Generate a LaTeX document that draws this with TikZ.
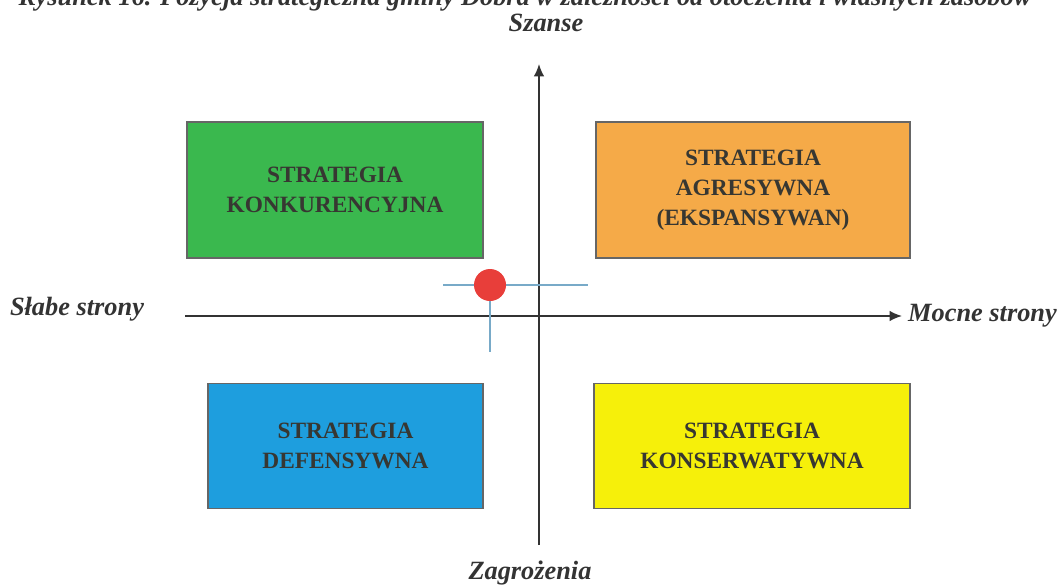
\documentclass[tikz,border=0pt]{standalone}
\usepackage{fontspec}
\setmainfont{Liberation Serif}
\usetikzlibrary{arrows.meta,positioning}

\definecolor{boxgreen}{RGB}{58,184,78}
\definecolor{boxorange}{RGB}{245,170,72}
\definecolor{boxblue}{RGB}{30,158,222}
\definecolor{boxyellow}{RGB}{246,240,10}
\definecolor{boxtext}{RGB}{55,55,50}
\definecolor{marklines}{RGB}{120,170,200}
\definecolor{markdot}{RGB}{232,62,58}

\tikzset{
    quad/.style={draw=gray!80!black,line width=0.6pt,align=center,
        font=\fontsize{13.3}{17}\selectfont\bfseries,text=boxtext,
        inner sep=0pt},
    axislabel/.style={font=\fontsize{15}{18}\selectfont\bfseries\itshape,
        text=black!80},
}

\begin{document}
\begin{tikzpicture}[x=0.02cm,y=-0.02cm]
    \useasboundingbox (0,0) rectangle (1059,585);
    \begin{scope}
        \clip (0,0) rectangle (1059,585);
        \node[axislabel,anchor=base] (title) at (525,5)
            {Rysunek 16. Pozycja strategiczna gminy Dobra w zależności od otoczenia i własnych zasobów};
    \end{scope}

    % quadrants
    \node[quad,fill=boxgreen,minimum width=296*0.02cm,minimum height=136*0.02cm]
        (konk) at (335,190) {STRATEGIA\\KONKURENCYJNA};
    \node[quad,fill=boxorange,minimum width=314*0.02cm,minimum height=136*0.02cm]
        (agr) at (753,190) {STRATEGIA\\AGRESYWNA\\(EKSPANSYWAN)};
    \node[quad,fill=boxblue,minimum width=275*0.02cm,minimum height=125*0.02cm]
        (def) at (345.5,446) {STRATEGIA\\DEFENSYWNA};
    \node[quad,fill=boxyellow,minimum width=316*0.02cm,minimum height=125*0.02cm]
        (kons) at (752,446) {STRATEGIA\\KONSERWATYWNA};

    % axes
    \coordinate (ybot) at (539,545);
    \coordinate (ytop) at (539,64);
    \coordinate (xleft) at (185,316);
    \coordinate (xright) at (902,316);
    \draw[line width=1pt,black!80,-{Latex[length=7pt,width=6pt]}] (ybot) -- (ytop);
    \draw[line width=1pt,black!80,-{Latex[length=7pt,width=6pt]}] (xleft) -- (xright);

    \node[axislabel] (szanse) at (546,23) {Szanse};
    \node[axislabel] (zagr) at (530,573) {Zagrożenia};
    \node[axislabel] (slabe) at (77,309) {Słabe strony};
    \node[axislabel,right=0pt of xright] (mocne) {Mocne strony};

    % position marker
    \coordinate (hl) at (443,285);
    \coordinate (hr) at (588,285);
    \coordinate (vt) at (490,285);
    \coordinate (vb) at (490,352);
    \draw[marklines,line width=1pt] (hl) -- (hr);
    \draw[marklines,line width=1pt] (vt) -- (vb);
    \node[circle,fill=markdot,minimum size=32*0.02cm,inner sep=0pt] (pos) at (vt) {};
\end{tikzpicture}
\end{document}
